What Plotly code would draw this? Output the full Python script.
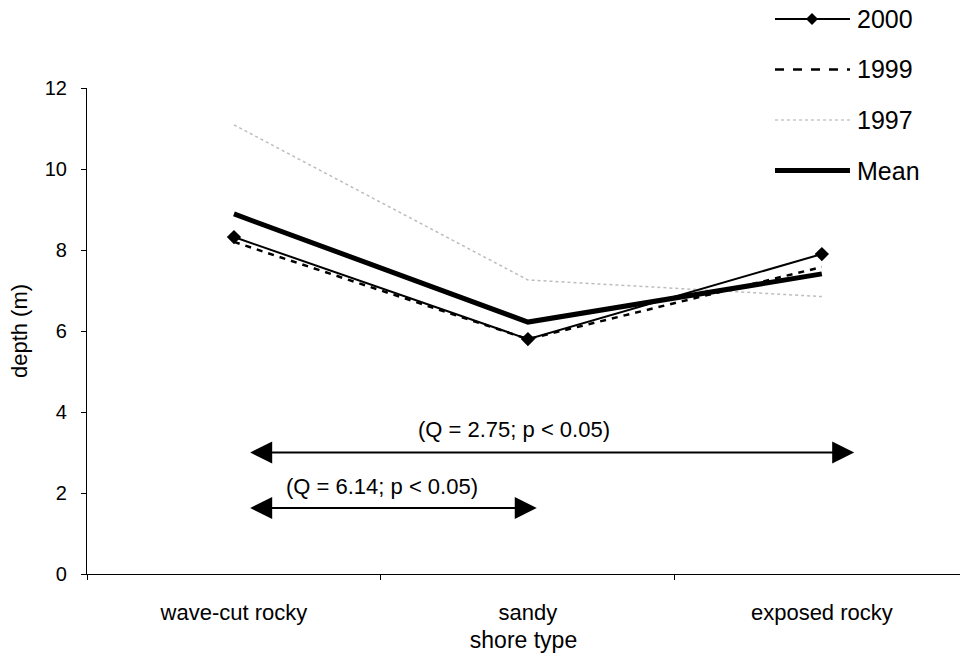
import plotly.graph_objects as go

# Mean water depth by shore type for each survey year
shore_types = ["wave-cut rocky", "sandy", "exposed rocky"]
depth_2000 = [8.32, 5.80, 7.90]
depth_1999 = [8.20, 5.80, 7.58]
depth_1997 = [11.09, 7.26, 6.85]
depth_mean = [8.89, 6.22, 7.41]

y_ticks = [0, 2, 4, 6, 8, 10, 12]

# Tukey comparisons between shore types (arrow span along category index, height, label)
comparisons = [
    {"x0": 0.05, "x1": 2.11, "y": 3.0, "label": "(Q = 2.75; p < 0.05)", "lx": 0.954, "ly": 3.56},
    {"x0": 0.05, "x1": 1.03, "y": 1.63, "label": "(Q = 6.14; p < 0.05)", "lx": 0.504, "ly": 2.17},
]

FONT = "Arial, Liberation Sans, sans-serif"

series = [
    ("1997", depth_1997, dict(color="#bdbdbd", width=1.5, dash="dot"), None),
    ("1999", depth_1999, dict(color="black", width=2.5, dash="6px,6px"), None),
    ("Mean", depth_mean, dict(color="black", width=5), None),
    ("2000", depth_2000, dict(color="black", width=2), dict(symbol="diamond", size=11, color="black")),
]

fig = go.Figure()
for name, vals, line, marker in series:
    fig.add_trace(go.Scatter(
        x=shore_types, y=vals, name=name,
        mode="lines+markers" if marker else "lines",
        line=line, marker=marker, showlegend=False,
        hoverinfo="skip",
    ))

for c in comparisons:
    fig.add_annotation(
        x=c["x1"], y=c["y"], ax=c["x0"], ay=c["y"],
        xref="x", yref="y", axref="x", ayref="y",
        text="", showarrow=True, arrowhead=2, startarrowhead=2,
        arrowside="end+start", arrowwidth=2, arrowsize=2.2, startarrowsize=2.2,
        arrowcolor="black",
    )
    fig.add_annotation(
        x=c["lx"], y=c["ly"], xref="x", yref="y", text=c["label"],
        showarrow=False, font=dict(family=FONT, size=22, color="black"),
    )

# Legend drawn by hand so each key line has full length
legend_items = [
    ("2000", dict(color="black", width=2), True),
    ("1999", dict(color="black", width=2.5, dash="dash"), False),
    ("1997", dict(color="#c8c8c8", width=1.5, dash="dot"), False),
    ("Mean", dict(color="black", width=5), False),
]
plot_l, plot_r, plot_t, plot_b = 87, 960, 88, 574
W, H = plot_r - plot_l, plot_b - plot_t
def px_x(p):
    return (p - plot_l) / W
def px_y(p):
    return (plot_b - p) / H

for i, (label, line, has_marker) in enumerate(legend_items):
    py = 19 + i * 50.5
    fig.add_shape(type="line", xref="paper", yref="paper",
                  x0=px_x(775), x1=px_x(850), y0=px_y(py), y1=px_y(py),
                  line=line)
    if has_marker:
        fig.add_shape(type="path", xref="paper", yref="paper",
                      xsizemode="pixel", ysizemode="pixel",
                      xanchor=px_x(812), yanchor=px_y(py),
                      path="M0,6 L6,0 L0,-6 L-6,0 Z",
                      fillcolor="black", line=dict(color="black", width=0))
    fig.add_annotation(x=px_x(855), y=px_y(py), xref="paper", yref="paper",
                       xanchor="left", yanchor="middle", text=label, showarrow=False,
                       font=dict(family=FONT, size=25, color="black"))

fig.update_layout(
    width=960, height=659,
    margin=dict(l=plot_l, r=0, t=plot_t, b=659 - plot_b, pad=0),
    paper_bgcolor="white", plot_bgcolor="white",
    font=dict(family=FONT, color="black"),
    xaxis=dict(
        type="category", range=[-0.5, 2.47],
        tickson="boundaries", ticks="outside", ticklen=5, tickcolor="black",
        showline=True, linecolor="black", linewidth=1.2, showgrid=False, zeroline=False,
        tickfont=dict(size=22), ticklabelstandoff=18,
        title=dict(text="shore type", font=dict(size=23), standoff=8),
        automargin=False,
    ),
    yaxis=dict(
        range=[0, 12], tickvals=y_ticks, ticks="outside", ticklen=5, tickcolor="black",
        showline=True, linecolor="black", linewidth=1.2, showgrid=False, zeroline=False,
        tickfont=dict(size=20), ticklabelstandoff=10,
        title=dict(text="depth (m)", font=dict(size=22), standoff=10),
        automargin=False,
    ),
)

fig.write_html("out.html")
